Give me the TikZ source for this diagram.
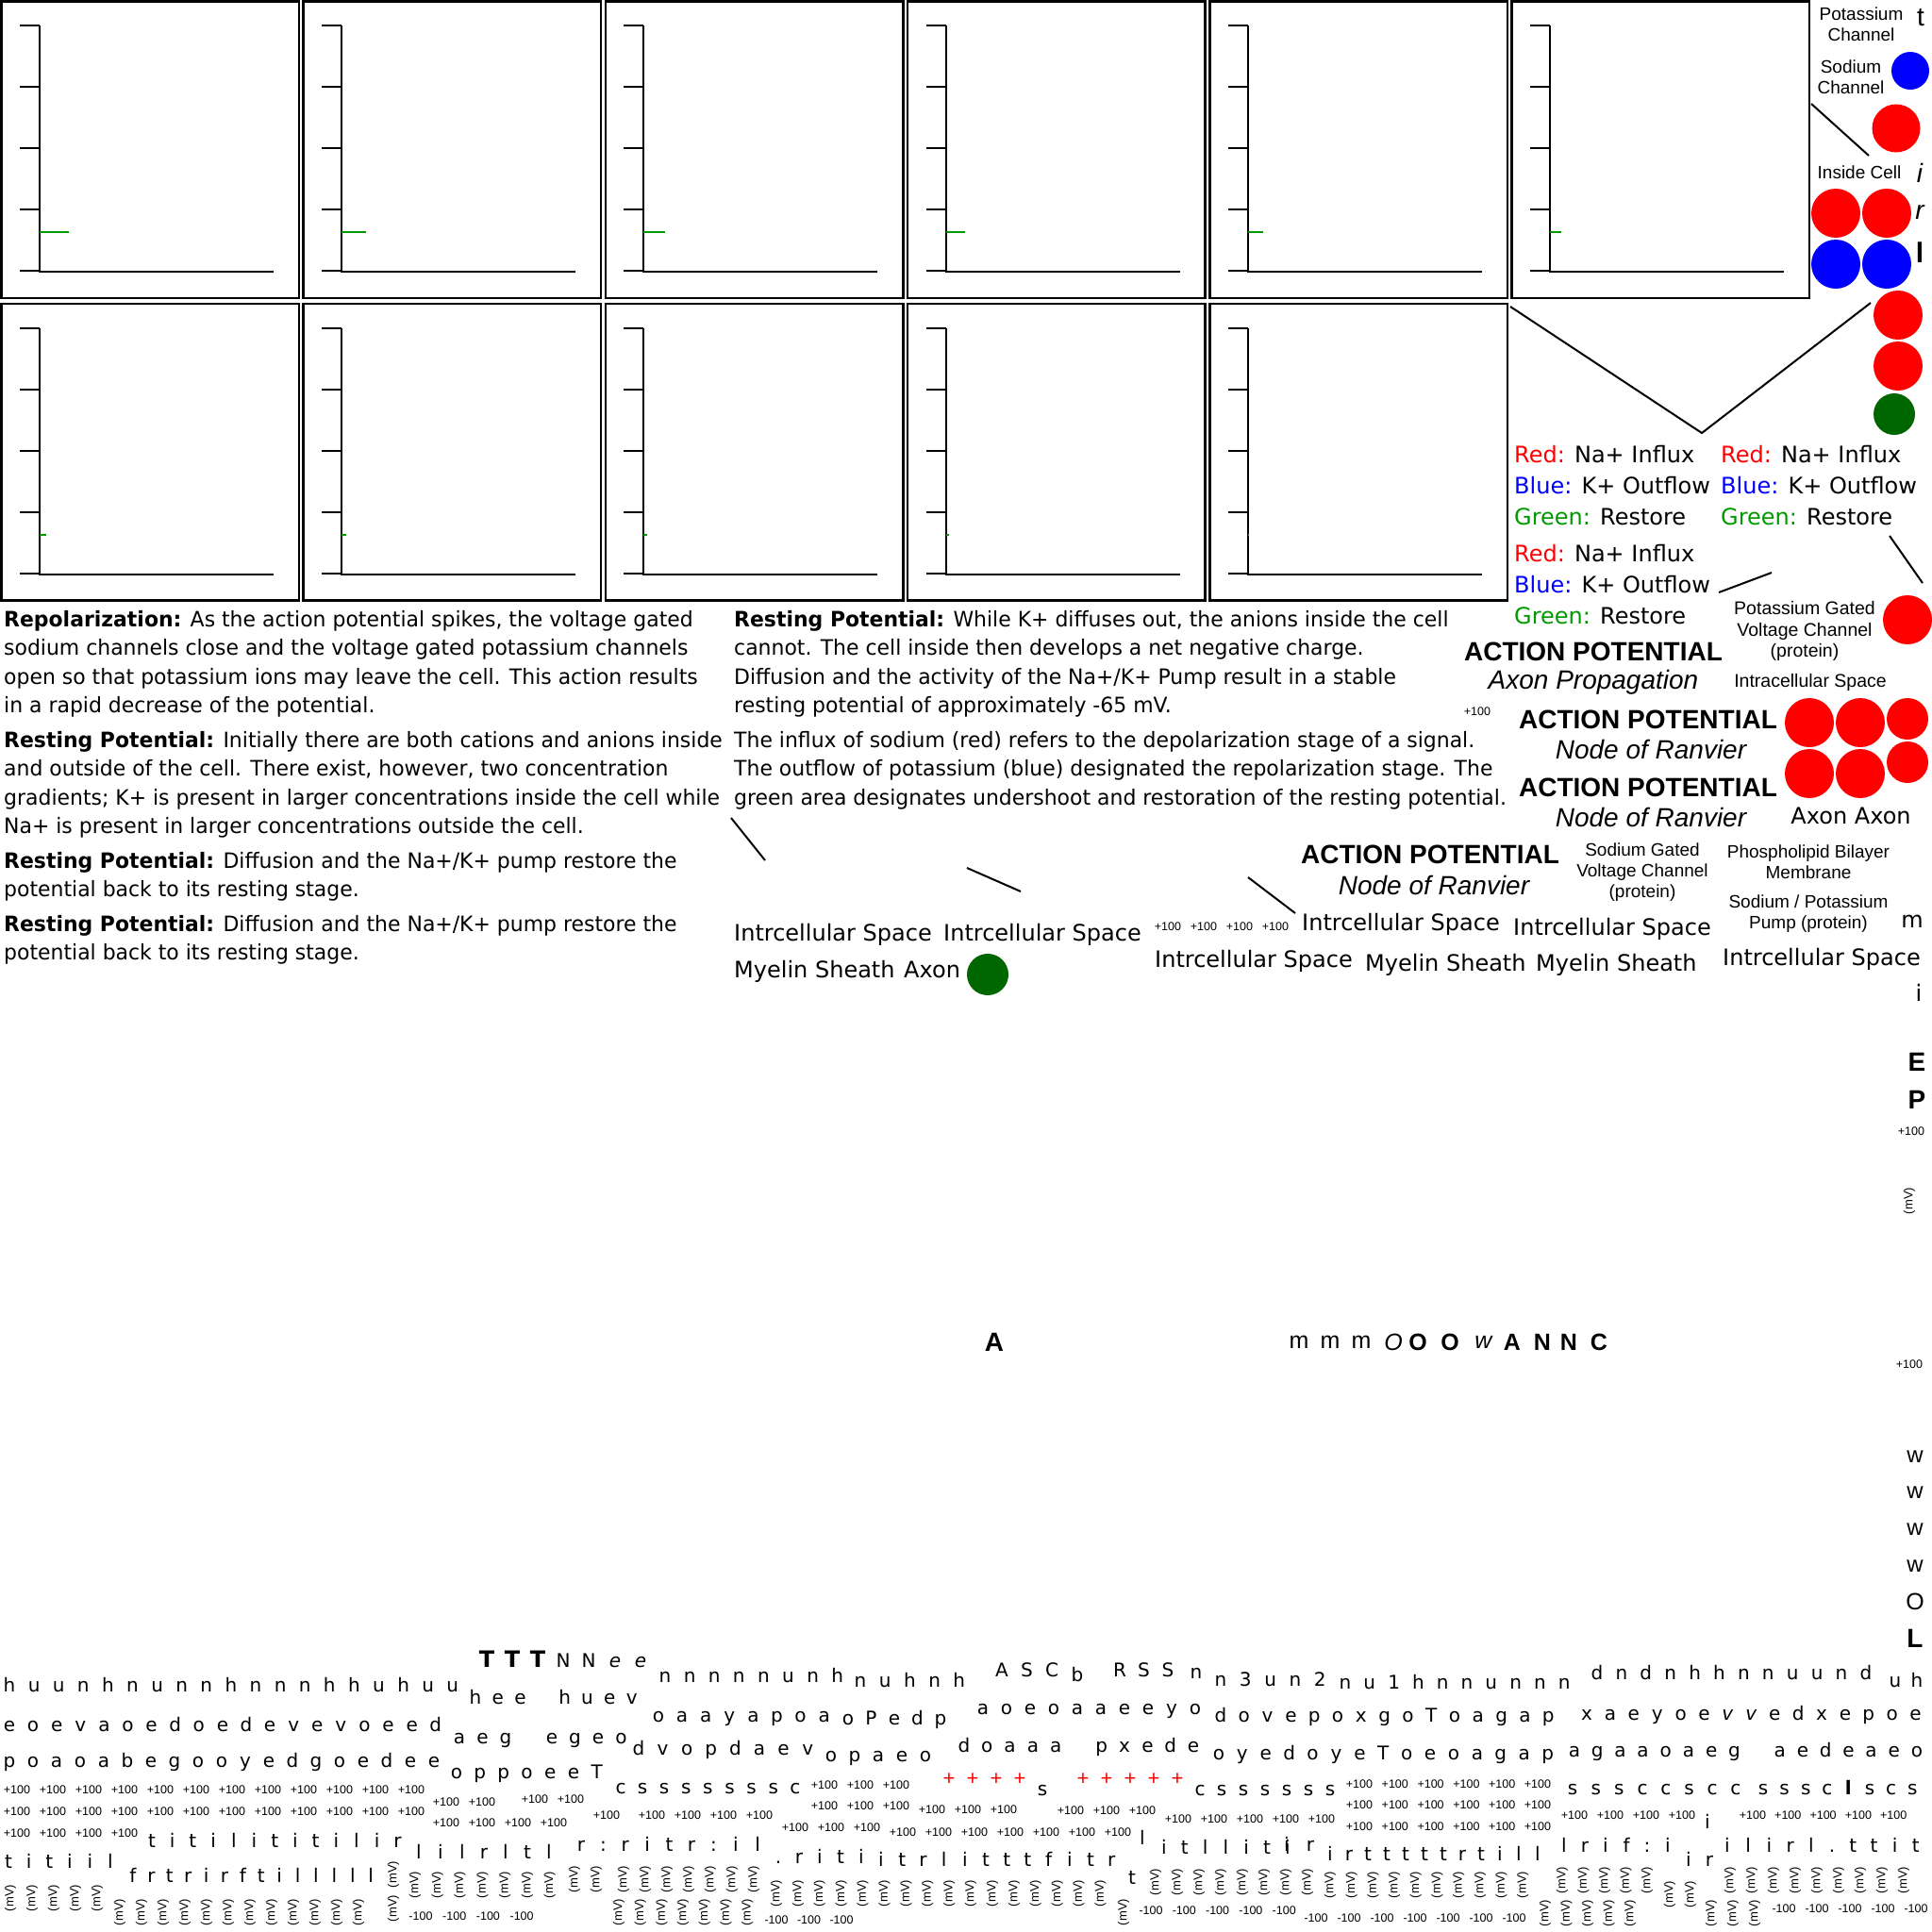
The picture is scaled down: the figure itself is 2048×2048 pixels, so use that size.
\documentclass[tikz,border=0pt]{standalone}
\usepackage{fontspec}
\usepackage{xcolor}
\usepackage{tikz}
\usetikzlibrary{positioning}
\newfontfamily\verd{DejaVu Sans}
\newfontfamily\taho[FakeStretch=0.975]{DejaVu Sans}
\newfontfamily\ari{Liberation Sans}
\definecolor{nared}{RGB}{255,0,0}
\definecolor{kblue}{RGB}{0,0,255}
\definecolor{restgreen}{RGB}{0,153,0}
\definecolor{dotgreen}{RGB}{0,102,0}
\newcommand\chrow[5][]{\foreach \ltr [count=\k from 0] in {#5} {\node[ch,#1] at ({#2+\k*#3},#4) {\ltr};}}
\newcommand\plusrow[4]{\foreach \k in {1,...,#4} {\node[pv] at ({#1+(\k-1)*#2},#3) {+100};}}
\newcommand\negrow[4]{\foreach \k in {1,...,#4} {\node[pv] at ({#1+(\k-1)*#2},#3) {-100};}}
\newcommand\mvrow[4]{\foreach \k in {1,...,#4} {\node[mv] at ({#1+(\k-1)*#2},#3) {(mV)};}}

\begin{document}
\begin{tikzpicture}[x=1pt,y=-1pt,
  panel/.style={draw, line width=2.5pt},
  axis/.style={line width=2pt},
  rest/.style={draw=restgreen, line width=2pt},
  lead/.style={line width=2pt},
  para/.style={font={\taho\fontsize{22.5}{30.5}\selectfont}, align=left, inner sep=0pt, anchor=north west},
  legend/.style={font={\verd\fontsize{24}{33}\selectfont}, align=left, inner sep=0pt, anchor=north west},
  lbl/.style={font={\ari\fontsize{19}{22}\selectfont}, align=center, inner sep=0pt},
  space/.style={font={\verd\fontsize{24}{28}\selectfont}, inner sep=0pt, anchor=west, text height=17pt, text depth=5pt},
  title/.style={font={\ari\bfseries\fontsize{28}{32}\selectfont}, inner sep=0pt},
  sub/.style={font={\ari\itshape\fontsize{28}{32}\selectfont}, inner sep=0pt},
  big/.style={font={\ari\fontsize{25}{30}\selectfont}, inner sep=0pt},
  ch/.style={font={\verd\fontsize{20}{24}\selectfont}, inner sep=0pt, text height=15pt, text depth=4pt},
  chb/.style={font={\verd\bfseries\fontsize{24}{28}\selectfont}},
  chi/.style={font={\verd\itshape\fontsize{20}{24}\selectfont}},
  plus/.style={text=nared, font={\ari\fontsize{22}{24}\selectfont}},
  pv/.style={font={\ari\fontsize{12.5}{14}\selectfont}, inner sep=0pt},
  mv/.style={font={\ari\fontsize{13}{15}\selectfont}, inner sep=0pt, rotate=90},
  ion/.style={circle, inner sep=0pt, minimum size=52pt, fill=nared},
]
\useasboundingbox (0,0) rectangle (2048,2048);

% voltage panels
\foreach \gx/\gy/\gl in {0/0/31, 320.2/0/26, 640.4/0/23, 960.6/0/20, 1280.8/0/16, 1601/0/12,
                         0/320.5/7, 320.2/320.5/5, 640.4/320.5/4, 960.6/320.5/3, 1280.8/320.5/0.1} {
  \begin{scope}[shift={(\gx,\gy)}]
    \draw[panel] (1.5,1.5) rectangle (317,316);
    \draw[axis] (42,27) -- (42,288) -- (290,288);
    \foreach \t in {27,92,157,222,287} \draw[axis] (21,\t) -- (42,\t);
    \draw[rest] (42,246) -- ++(\gl,0);
  \end{scope}
}

% ions and labels, right column
\node[lbl] (kchan) at (1973,26) {Potassium\\Channel};
\node[big, font={\ari\fontsize{28}{30}\selectfont}] (tt) at (2036,19) {t};
\node[lbl] (nachan) at (1962,82) {Sodium\\Channel};
\node[ion, fill=kblue, minimum size=40pt] (k1) at (2025,75) {};
\node[ion, minimum size=51pt] (na1) at (2010,136) {};
\node[lbl] (inside) at (1971,183) {Inside Cell};
\node[sub] (ii) at (2035,183) {i};
\node[ion] (na2) at (1946,226) {};
\node[ion] (na3) at (2000,226) {};
\node[sub] (rr) at (2035,225) {r};
\node[ion, fill=kblue] (k2) at (1946,280) {};
\node[ion, fill=kblue] (k3) at (2000,280) {};
\node[big, font={\ari\bfseries\fontsize{30}{32}\selectfont}] (ll) at (2035,268) {l};
\node[ion] (na4) at (2012,334) {};
\node[ion] (na5) at (2012,388) {};
\node[ion, fill=dotgreen, minimum size=44pt] (g1) at (2008,439) {};
\draw[lead] (1920,110) -- (1981,165);
\draw[lead] (1601,325) -- (1804,459) -- (1983,321);

\node[legend] (lega) at (1605,472) {\textcolor{nared}{Red:} Na+ Influx\\\textcolor{kblue}{Blue:} K+ Outflow\\\textcolor{restgreen}{Green:} Restore};
\node[legend] (legb) at (1824,472) {\textcolor{nared}{Red:} Na+ Influx\\\textcolor{kblue}{Blue:} K+ Outflow\\\textcolor{restgreen}{Green:} Restore};
\node[legend] (legc) at (1605,577) {\textcolor{nared}{Red:} Na+ Influx\\\textcolor{kblue}{Blue:} K+ Outflow\\\textcolor{restgreen}{Green:} Restore};
\draw[lead] (1822,628) -- (1878,607);
\draw[lead] (2003,568) -- (2038,618);

\node[lbl, font={\ari\fontsize{19.5}{22.5}\selectfont}] (kgate) at (1913,669) {Potassium Gated\\Voltage Channel\\(protein)};
\node[ion] (na6) at (2022,657) {};
\node[lbl, font={\ari\fontsize{19.5}{22}\selectfont}] (intra) at (1919,723) {Intracellular Space};
\node[title] (ap1) at (1689,691) {ACTION POTENTIAL};
\node[sub] (ax1) at (1689,723) {Axon Propagation};
\node[pv] at (1566,754) {+100};
\node[ion] (na7) at (1918,766) {};
\node[ion] (na8) at (1972,766) {};
\node[ion, minimum size=44pt] (na9) at (2022,762) {};
\node[ion] (na10) at (1918,820) {};
\node[ion] (na11) at (1972,820) {};
\node[ion, minimum size=44pt] (na12) at (2022,808) {};
\node[title] (ap2) at (1747,763) {ACTION POTENTIAL};
\node[sub] (nr2) at (1750,794) {Node of Ranvier};
\node[title] (ap3) at (1747,835) {ACTION POTENTIAL};
\node[sub] (nr3) at (1750,866) {Node of Ranvier};
\node[space, anchor=center] (axax) at (1962,867) {Axon Axon};
\node[title] (ap4) at (1516,906) {ACTION POTENTIAL};
\node[sub] (nr4) at (1520,938) {Node of Ranvier};
\node[lbl] (nagate) at (1741,925) {Sodium Gated\\Voltage Channel\\(protein)};
\node[lbl] (bilayer) at (1917,914) {Phospholipid Bilayer\\Membrane};
\node[lbl] (pump) at (1917,969) {Sodium / Potassium\\Pump (protein)};
\node[space, anchor=center] (mm) at (2027,977) {m};

% paragraphs
\node[para] (repol) at (4,647) {\textbf{Repolarization:} As the action potential spikes, the voltage gated\\sodium channels close and the voltage gated potassium channels\\open so that potassium ions may leave the cell. This action results\\in a rapid decrease of the potential.};
\node[para] (rest1) at (4,775) {\textbf{Resting Potential:} Initially there are both cations and anions inside\\and outside of the cell. There exist, however, two concentration\\gradients; K+ is present in larger concentrations inside the cell while\\Na+ is present in larger concentrations outside the cell.};
\node[para] (rest2) at (4,903) {\textbf{Resting Potential:} Diffusion and the Na+/K+ pump restore the\\potential back to its resting stage.};
\node[para] (rest3) at (4,970) {\textbf{Resting Potential:} Diffusion and the Na+/K+ pump restore the\\potential back to its resting stage.};
\node[para] (rest4) at (778,647) {\textbf{Resting Potential:} While K+ diffuses out, the anions inside the cell\\cannot. The cell inside then develops a net negative charge.\\Diffusion and the activity of the Na+/K+ Pump result in a stable\\resting potential of approximately -65 mV.};
\node[para] (influx) at (778,775) {The influx of sodium (red) refers to the depolarization stage of a signal.\\The outflow of potassium (blue) designated the repolarization stage. The\\green area designates undershoot and restoration of the resting potential.};

\draw[lead] (775,867) -- (811,912);
\draw[lead] (1025,920) -- (1082,945);
\draw[lead] (1323,930) -- (1373,968);

\node[space] (sp1) at (778,991) {Intrcellular Space};
\node[space] (sp2) at (1000,991) {Intrcellular Space};
\node[space] (my1) at (778,1030) {Myelin Sheath};
\node[space] (axon) at (958,1030) {Axon};
\node[ion, fill=dotgreen, minimum size=44pt] (g2) at (1047,1033) {};
\plusrow{1238}{38}{982}{4}
\node[space] (sp3) at (1380,980) {Intrcellular Space};
\node[space] (sp4) at (1604,985) {Intrcellular Space};
\node[space] (sp5) at (1224,1019) {Intrcellular Space};
\node[space] (my2) at (1447,1023) {Myelin Sheath};
\node[space] (my3) at (1628,1023) {Myelin Sheath};
\node[space] (sp6) at (1826,1017) {Intrcellular Space};

% stray glyphs, right edge and middle
\node[space, anchor=center] at (2034,1055) {i};
\node[title] at (2032,1126) {E};
\node[title] at (2032,1166) {P};
\node[pv] at (2026,1199) {+100};
\node[mv] at (2024,1273) {(mV)};
\node[pv] at (2024,1446) {+100};
\foreach \wy in {1544,1582,1621,1660} \node[big, font={\ari\fontsize{24}{26}\selectfont}] at (2030,\wy) {w};
\node[big] at (2030,1698) {O};
\node[title] at (2030,1737) {L};
\node[title] at (1054,1423) {A};
\foreach \mx/\mt in {1377/m, 1410/m, 1443/m, 1477/\textit{O}, 1503/\textbf{O}, 1537/\textbf{O}, 1573/\textit{w},
                     1603/\textbf{A}, 1635/\textbf{N}, 1663/\textbf{N}, 1695/\textbf{C}}
  \node[big] at (\mx,1423) {\mt};

% bottom letters
\chrow[chb]{516}{27}{1762}{T,T,T}
\chrow{597}{27}{1762}{N,N}
\chrow[chi]{652}{27}{1762}{e,e}
\chrow{10}{26.1}{1788}{h,u,u,n,h,n,u,n,n,h,n,n,n,h,h,u,h,u,u}
\chrow{504}{23.7}{1801}{h,e,e,{},h,u,e,v}
\chrow{705}{26.1}{1778}{n,n,n,n,n,u,n,h}
\chrow{912}{26.2}{1783}{n,u,h,n,h}
\chrow{1062}{26.5}{1772}{A,S,C}
\chrow{1142}{0}{1777}{b}
\chrow{1187}{25.5}{1772}{R,S,S}
\chrow{1268}{0}{1774}{n}
\chrow{1294}{26.3}{1782}{n,3,u,n,2}
\chrow{1426}{25.8}{1785}{n,u,1,h,n,n,u,n,n,n}
\chrow{1693}{25.9}{1775}{d,n,d,n,h,h,n,n,u,u,n,d}
\chrow{2009}{23}{1783}{u,h}

\chrow{10}{25.1}{1830}{e,o,e,v,a,o,e,d,o,e,d,e,v,e,v,o,e,e,d}
\chrow{487}{24.5}{1843}{a,e,g,{},e,g,e,o}
\chrow{698}{25.1}{1820}{o,a,a,y,a,p,o,a}
\chrow{899}{24.5}{1823}{o,P,e,d,p}
\chrow{1042}{25}{1812}{a,o,e,o,a,a,e,e,y,o}
\chrow{1294}{24.8}{1820}{d,o,v,e,p,o,x,g,o,T,o,a,g,a,p}
\chrow{1682}{24.9}{1818}{x,a,e,y,o,e,\textit{v},\textit{v},e,d,x,e,p,o,e}

\chrow{10}{25}{1868}{p,o,a,o,a,b,e,g,o,o,y,e,d,g,o,e,d,e,e}
\chrow{484}{24.8}{1880}{o,p,p,o,e,e,T}
\chrow{677}{25.6}{1855}{d,v,o,p,d,a,e,v}
\chrow{881}{25}{1862}{o,p,a,e,o}
\chrow{1022}{24.3}{1852}{d,o,a,a,a,{},p,x,e,d,e}
\chrow{1292}{24.9}{1860}{o,y,e,d,o,y,e,T,o,e,o,a,g,a,p}
\chrow{1669}{24.2}{1857}{a,g,a,a,o,a,e,g,{},a,e,d,e,a,e,o}

\chrow{658}{23.1}{1896}{c,s,s,s,s,s,s,s,c}
\chrow[plus]{1006}{25}{1887}{+,+,+,+}
\chrow{1105}{0}{1898}{s}
\chrow[plus]{1148}{25}{1887}{+,+,+,+,+}
\chrow{1272}{23}{1898}{c,s,s,s,s,s,s}
\chrow{1667}{24.7}{1897}{s,s,s,c,c,s,c,c}
\chrow{1869}{22.6}{1897}{s,s,s,c,\textbf{l},s,c,s}

\plusrow{18}{38}{1897}{12}
\plusrow{18}{38}{1920}{12}
\plusrow{18}{38}{1943}{4}
\plusrow{473}{38}{1910}{2}
\plusrow{567}{38}{1907}{2}
\plusrow{473}{38}{1932}{4}
\plusrow{643}{0}{1924}{1}
\plusrow{691}{38}{1924}{4}
\plusrow{874}{38}{1892}{3}
\plusrow{874}{38}{1914}{3}
\plusrow{843}{38}{1937}{3}
\plusrow{988}{38}{1918}{3}
\plusrow{1135}{38}{1919}{3}
\plusrow{1249}{38}{1928}{5}
\plusrow{957}{38}{1942}{7}
\plusrow{1441}{37.8}{1891}{6}
\plusrow{1441}{37.8}{1913}{6}
\plusrow{1441}{37.8}{1936}{6}
\plusrow{1669}{38}{1924}{4}
\chrow{1810}{0}{1933}{i}
\plusrow{1858}{37.3}{1924}{5}

\chrow{9}{21.6}{1975}{t,i,t,i,i,l}
\chrow{161}{21.7}{1953}{t,i,t,i,l,i,t,i,t,i,l,i,r}
\chrow{141}{19.4}{1990}{f,r,t,r,i,r,f,t,i,l,l,l,l,l}
\chrow{444}{23}{1965}{l,i,l,r,l,t,l}
\chrow{616}{23.4}{1957}{r,:,r,i,t,r,:,i,l}
\chrow{825}{22}{1970}{.,r,i,t,i}
\chrow{934}{22.2}{1973}{i,t,r,l,i,t,t,t,f,i,t,r}
\chrow{1211}{0}{1950}{l}
\chrow{1200}{0}{1992}{t}
\chrow{1234}{21.8}{1960}{i,t,l,l,i,t,i}
\chrow{1364}{25}{1957}{i,r}
\chrow{1410}{20}{1967}{i,r,t,t,t,t,t,r,t,i,l,l}
\chrow{1658}{22}{1958}{l,r,i,f,:,i}
\chrow{1790}{22}{1973}{i,r}
\chrow{1831}{22.2}{1958}{i,l,i,r,l,.,t,t,i,t}

\mvrow{11}{23}{2012}{5}
\mvrow{127}{23}{2027}{12}
\mvrow{417}{0}{1987}{1}
\mvrow{417}{0}{2023}{1}
\mvrow{440}{23.8}{1998}{7}
\mvrow{609}{23}{1992}{2}
\mvrow{661}{23}{1992}{7}
\mvrow{656}{22.7}{2027}{7}
\mvrow{823}{22.9}{2007}{16}
\mvrow{1191}{0}{2027}{1}
\mvrow{1225}{23}{1995}{8}
\mvrow{1410}{22.7}{1998}{10}
\mvrow{1656}{22.5}{1993}{5}
\mvrow{1638}{22.5}{2028}{5}
\mvrow{1770}{22}{2008}{2}
\mvrow{1814}{23}{2028}{3}
\mvrow{1834}{23}{1993}{9}
\negrow{446}{35.7}{2031}{4}
\negrow{823}{34.5}{2035}{3}
\negrow{1220}{35.3}{2025}{5}
\negrow{1395}{35}{2033}{7}
\negrow{1891}{35}{2023}{5}
\end{tikzpicture}
\end{document}
